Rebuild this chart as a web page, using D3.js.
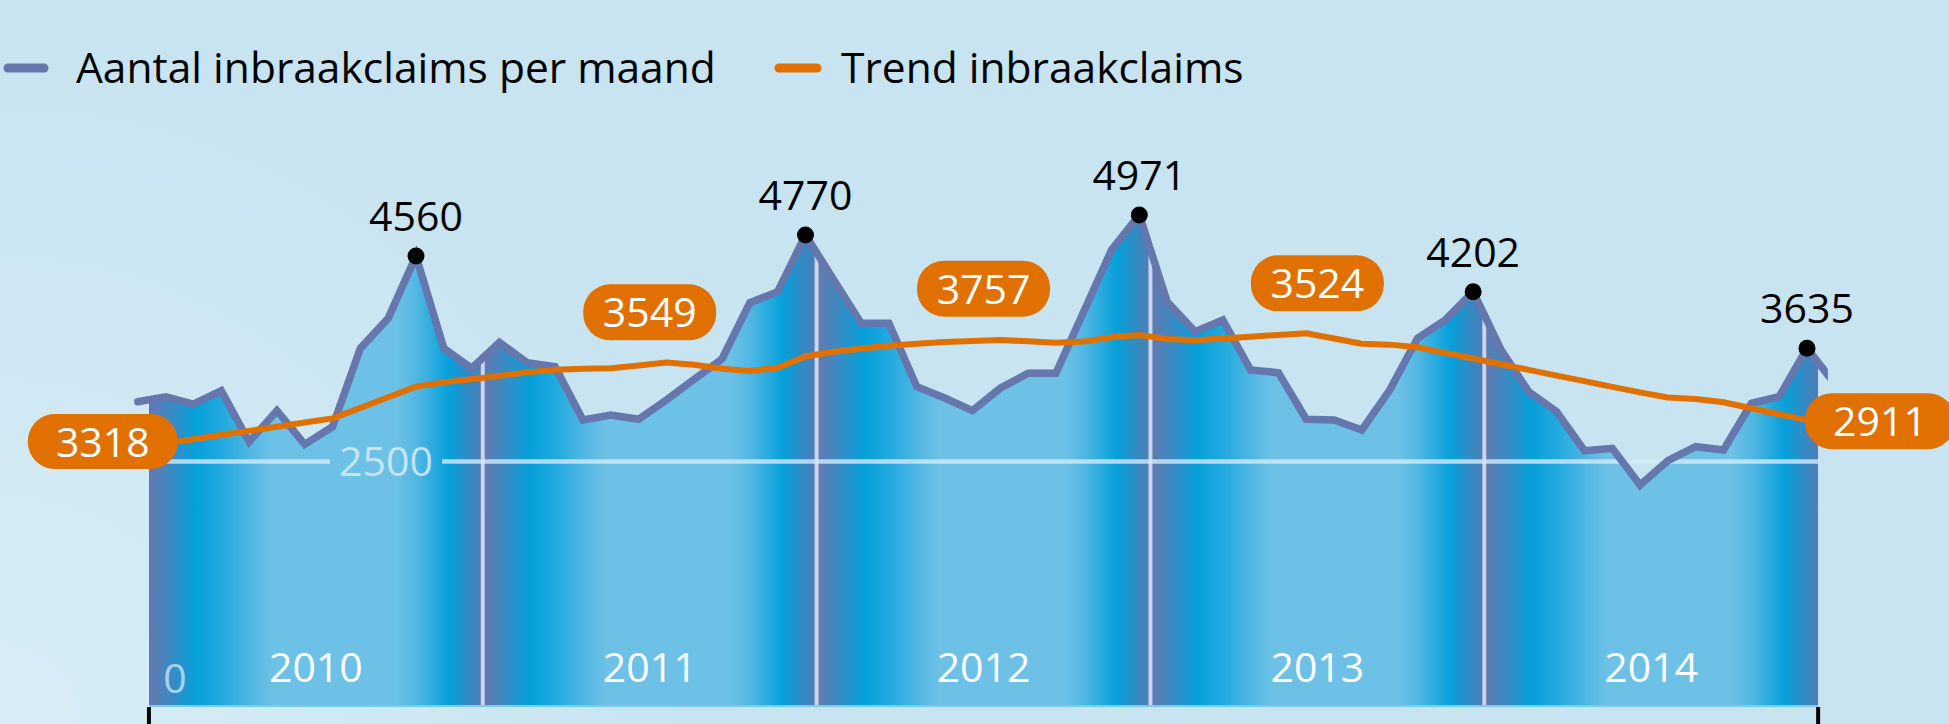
<!DOCTYPE html>
<html>
<head>
<meta charset="utf-8">
<script src="https://cdn.jsdelivr.net/npm/d3@7"></script>
<style>
  html, body { margin: 0; padding: 0; background: #c8e4f0; }
  svg { display: block; font-family: "Open Sans", "Noto Sans", sans-serif; }
</style>
</head>
<body>
<svg id="chart" width="1949" height="724"></svg>
<script>
// ---------- data ----------
const years = ["2010", "2011", "2012", "2013", "2014"];
const seriesNames = ["Aantal inbraakclaims per maand", "Trend inbraakclaims"];
// monthly claims, month index 0..61 (last one only partly visible)
const monthly = [
  3099, 3149, 3076, 3209, 2698, 3009, 2672, 2849, 3634, 3935,
  4560, 3634, 3434, 3694, 3490, 3450, 2916, 2966, 2923, 3116,
  3325, 3527, 4091, 4201, 4770, 4327, 3885, 3885, 3250, 3136,
  3009, 3234, 3384, 3384, 4001, 4619, 4971, 4101, 3801, 3918,
  3417, 3390, 2923, 2916, 2816, 3216, 3735, 3918, 4202, 3620,
  3199, 2999, 2608, 2632, 2265, 2508, 2648, 2615, 3083, 3149,
  3635, 3278
];
// trend line, month index 0..60
const trend = [
  2640, 2682, 2723, 2766, 2807, 2849, 2890, 2932, 3037, 3144,
  3250, 3293, 3324, 3358, 3393, 3420, 3429, 3434, 3461, 3492,
  3470, 3430, 3407, 3438, 3552, 3599, 3629, 3659, 3679, 3697,
  3707, 3717, 3704, 3691, 3702, 3744, 3768, 3727, 3716, 3733,
  3750, 3768, 3785, 3732, 3680, 3671, 3645, 3588, 3532, 3475,
  3418, 3361, 3305, 3248, 3193, 3142, 3127, 3094, 3034, 2974,
  2914
];
// highlighted peaks (month index of each yearly maximum)
const peakMonths = [10, 24, 36, 48, 60];
const trendLabels = [3318, 3549, 3757, 3524, 2911];
const yTicks = [0, 2500];

// ---------- layout ----------
const W = 1949, H = 724;
const plotBottom = 707;
const monthsPerYear = 12;
const bandStart = 0.4;        // month index where the first year band starts
const lineEnd = 60.75;        // month index where the drawn line is cut
const font = 41;

const svg = d3.select("#chart");
const defs = svg.append("defs");

// background
const bg = defs.append("radialGradient").attr("id", "bg")
  .attr("gradientUnits", "userSpaceOnUse")
  .attr("cx", 0).attr("cy", H).attr("r", 700);
bg.append("stop").attr("offset", 0).attr("stop-color", "#d8edf6");
bg.append("stop").attr("offset", 1).attr("stop-color", "#c8e4f0");
svg.append("rect").attr("width", W).attr("height", H).attr("fill", "url(#bg)");

// scales
const x = d3.scaleLinear().domain([0, 60]).range([137.8, 1807]);
const y = d3.scaleLinear().domain([0, 5000]).range([711, 212]);

const bandEdges = d3.range(years.length + 1).map(k => x(bandStart + k * monthsPerYear));
const plotLeft = bandEdges[0], plotRight = bandEdges[years.length];

// band gradient
const g = defs.append("linearGradient").attr("id", "band")
  .attr("x1", 0).attr("x2", 1).attr("y1", 0).attr("y2", 0);
[[0, "#6478ae"], [0.06, "#3f89c2"], [0.14, "#05a0da"], [0.22, "#22a9df"],
 [0.32, "#58b9e4"], [0.37, "#6ec1e6"], [0.74, "#6ec1e6"], [0.80, "#52b7e3"],
 [0.90, "#05a0da"], [0.96, "#3589c2"], [1, "#4f7db7"]]
  .forEach(([o, c]) => g.append("stop").attr("offset", o).attr("stop-color", c));

// clip = area under the monthly line, inside the plot rect
const area = d3.area()
  .x((d, i) => x(i))
  .y0(plotBottom)
  .y1(d => y(d));
const clip = defs.append("clipPath").attr("id", "areaClip");
clip.append("path").attr("d", area(monthly));
const rectClip = defs.append("clipPath").attr("id", "plotClip");
rectClip.append("rect").attr("x", plotLeft).attr("y", 0)
  .attr("width", plotRight - plotLeft).attr("height", plotBottom);
const lineClip = defs.append("clipPath").attr("id", "lineClip");
lineClip.append("rect").attr("x", 0).attr("y", 0)
  .attr("width", x(lineEnd)).attr("height", H);

const areaG = svg.append("g").attr("clip-path", "url(#plotClip)")
  .append("g").attr("clip-path", "url(#areaClip)");

areaG.selectAll("rect.band").data(years).join("rect")
  .attr("class", "band")
  .attr("x", (d, k) => bandEdges[k])
  .attr("width", (d, k) => bandEdges[k + 1] - bandEdges[k])
  .attr("y", 0).attr("height", plotBottom)
  .attr("fill", "url(#band)");

// year dividers
areaG.selectAll("line.div").data(bandEdges.slice(1, -1)).join("line")
  .attr("class", "div")
  .attr("x1", d => d).attr("x2", d => d)
  .attr("y1", 0).attr("y2", plotBottom)
  .attr("stroke", "rgba(232,232,248,0.8)").attr("stroke-width", 4);

// bottom light edge
svg.append("line").attr("x1", plotLeft).attr("x2", plotRight)
  .attr("y1", plotBottom - 1).attr("y2", plotBottom - 1)
  .attr("stroke", "#7ccaec").attr("stroke-width", 2);

// gridline 2500 with its label
const tickLabelX = 386;
const gy = y(yTicks[1]);
const gap = 56;
svg.append("line").attr("x1", plotLeft).attr("x2", tickLabelX - gap)
  .attr("y1", gy).attr("y2", gy)
  .attr("stroke", "rgba(210,236,250,0.8)").attr("stroke-width", 4.5);
svg.append("line").attr("x1", tickLabelX + gap).attr("x2", plotRight)
  .attr("y1", gy).attr("y2", gy)
  .attr("stroke", "rgba(210,236,250,0.8)").attr("stroke-width", 4.5);
svg.append("text").attr("x", tickLabelX).attr("y", gy + 14)
  .attr("text-anchor", "middle").attr("font-size", font)
  .attr("fill", "rgba(215,238,250,0.85)").text(d3.format("")(yTicks[1]));
svg.append("text").attr("x", plotLeft + 26).attr("y", 693)
  .attr("text-anchor", "middle").attr("font-size", font)
  .attr("fill", "rgba(200,228,245,0.8)").text(d3.format("")(yTicks[0]));

// year labels
svg.selectAll("text.year").data(years).join("text")
  .attr("class", "year")
  .attr("x", (d, k) => (bandEdges[k] + bandEdges[k + 1]) / 2)
  .attr("y", 682)
  .attr("text-anchor", "middle").attr("font-size", font)
  .attr("fill", "#ffffff").text(d => d);

// ticks under the plot
svg.selectAll("line.tick").data([plotLeft, plotRight]).join("line")
  .attr("class", "tick")
  .attr("x1", d => d).attr("x2", d => d)
  .attr("y1", plotBottom).attr("y2", H)
  .attr("stroke", "#000").attr("stroke-width", 4);

// monthly line
const line = d3.line().x((d, i) => x(i)).y(d => y(d));
svg.append("path").attr("d", line(monthly))
  .attr("clip-path", "url(#lineClip)")
  .attr("fill", "none").attr("stroke", "#6577ad")
  .attr("stroke-width", 7.5).attr("stroke-linejoin", "miter")
  .attr("stroke-linecap", "round");

// trend line
svg.append("path").attr("d", line(trend))
  .attr("fill", "none").attr("stroke", "#e07000")
  .attr("stroke-width", 6).attr("stroke-linejoin", "round");

// peaks
const peaks = peakMonths.map(i => ({ i, v: monthly[i] }));
svg.selectAll("circle.peak").data(peaks).join("circle")
  .attr("class", "peak")
  .attr("cx", d => x(d.i)).attr("cy", d => y(d.v)).attr("r", 8.5)
  .attr("fill", "#000");
svg.selectAll("text.peak").data(peaks).join("text")
  .attr("class", "peak")
  .attr("x", d => x(d.i)).attr("y", d => y(d.v) - 25)
  .attr("text-anchor", "middle").attr("font-size", font)
  .attr("fill", "#000").text(d => d.v);

// trend labels (pills)
const trendAt = px => {
  const m = x.invert(px);
  const i0 = Math.max(0, Math.min(trend.length - 2, Math.floor(m)));
  const t = m - i0;
  return trend[i0] * (1 - t) + trend[i0 + 1] * t;
};
const last = trendLabels.length - 1;
const pills = trendLabels.map((v, k) => {
  if (k === 0) return { v, cx: x(0) - 35, cy: y(trend[0]) - 6, w: 150, h: 55 };
  if (k === last) return { v, cx: x(trend.length - 1) + 73, cy: y(trend[trend.length - 1]) + 1, w: 150, h: 56 };
  const cx = (bandEdges[k] + bandEdges[k + 1]) / 2;
  return { v, cx, cy: y(trendAt(cx)) - 52, w: 133, h: 56 };
});
const pg = svg.selectAll("g.pill").data(pills).join("g").attr("class", "pill");
pg.append("rect")
  .attr("x", d => d.cx - d.w / 2).attr("y", d => d.cy - d.h / 2)
  .attr("width", d => d.w).attr("height", d => d.h)
  .attr("rx", 27).attr("ry", 27).attr("fill", "#e07000");
pg.append("text")
  .attr("x", d => d.cx).attr("y", d => d.cy + 15)
  .attr("text-anchor", "middle").attr("font-size", font)
  .attr("fill", "#fff").text(d => d.v);

// legend
const legend = [
  { name: seriesNames[0], color: "#6577ad", x1: 8, x2: 44, tx: 76 },
  { name: seriesNames[1], color: "#e07000", x1: 779, x2: 817, tx: 841 }
];
const lg = svg.selectAll("g.leg").data(legend).join("g").attr("class", "leg");
lg.append("line")
  .attr("x1", d => d.x1).attr("x2", d => d.x2).attr("y1", 68).attr("y2", 68)
  .attr("stroke", d => d.color).attr("stroke-width", 9).attr("stroke-linecap", "round");
lg.append("text")
  .attr("x", d => d.tx).attr("y", 83).attr("font-size", 42.5)
  .attr("fill", "#000").text(d => d.name);
</script>
</body>
</html>
